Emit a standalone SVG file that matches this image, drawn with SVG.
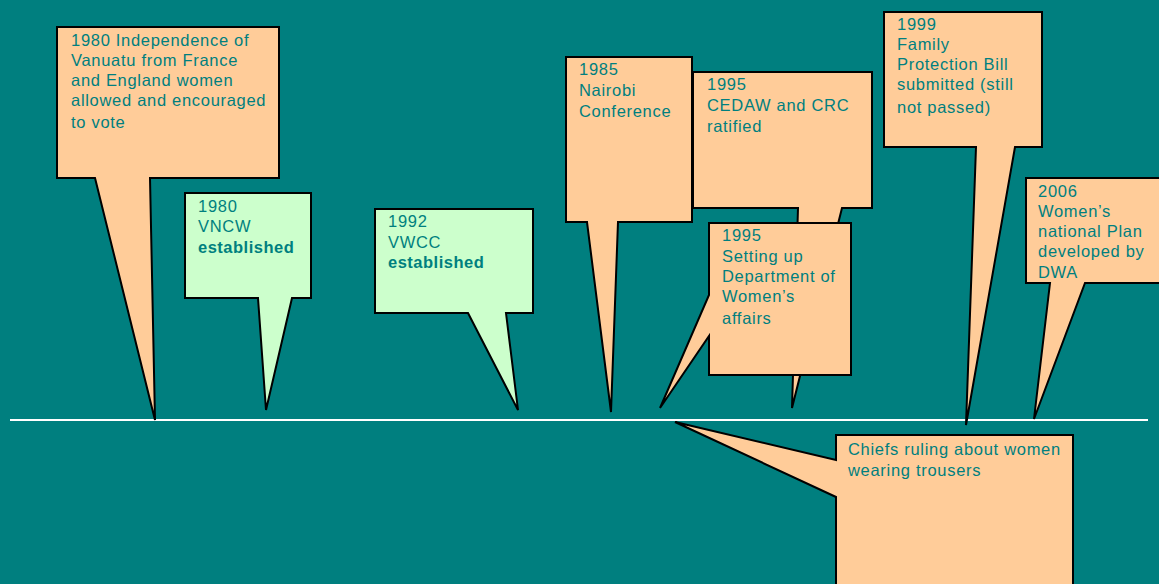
<svg xmlns="http://www.w3.org/2000/svg" width="1159" height="584" viewBox="0 0 1159 584">
  <style>
    .callout { stroke: #000; stroke-width: 2; stroke-linejoin: miter; }
    .peach { fill: #FFCC99; }
    .mint { fill: #CCFFCC; }
    .label { font-family: "Liberation Sans", Arial, sans-serif; font-size: 16.5px; letter-spacing: 0.7px; fill: #007F7F; }
    .strong { font-weight: bold; letter-spacing: 0.5px; }
  </style>
  <rect x="0" y="0" width="1159" height="584" fill="#007F7F"/>

  <!-- timeline axis -->
  <g id="connectors">
    <line x1="10" y1="420" x2="1148" y2="420" stroke="#FFFFFF" stroke-width="2"/>
  </g>

  <g id="event-1980-independence">
    <path class="callout peach" d="M57,27 H279 V178 H150 L155,420 L95,178 H57 Z"/>
    <text class="label" x="71" y="46">1980 Independence of</text>
    <text class="label" x="71" y="66">Vanuatu from France</text>
    <text class="label" x="71" y="86">and England women</text>
    <text class="label" x="71" y="106">allowed and encouraged</text>
    <text class="label" x="71" y="128">to vote</text>
  </g>

  <g id="event-1980-vncw">
    <path class="callout mint" d="M185,193 H311 V298 H292 L266,410 L258,298 H185 Z"/>
    <text class="label" x="198" y="212">1980</text>
    <text class="label" x="198" y="232">VNCW</text>
    <text class="label strong" x="198" y="253">established</text>
  </g>

  <g id="event-1992-vwcc">
    <path class="callout mint" d="M375,209 H533 V313 H506 L518,410 L468,313 H375 Z"/>
    <text class="label" x="388" y="227">1992</text>
    <text class="label" x="388" y="248">VWCC</text>
    <text class="label strong" x="388" y="268">established</text>
  </g>

  <g id="event-1985-nairobi">
    <path class="callout peach" d="M566,57 H692 V222 H618 L611,412 L587,222 H566 Z"/>
    <text class="label" x="579" y="75">1985</text>
    <text class="label" x="579" y="96">Nairobi</text>
    <text class="label" x="579" y="117">Conference</text>
  </g>

  <g id="event-1995-cedaw">
    <path class="callout peach" d="M693,72 H872 V208 H842 L792,408 L798,208 H693 Z"/>
    <text class="label" x="707" y="90">1995</text>
    <text class="label" x="707" y="111">CEDAW and CRC</text>
    <text class="label" x="707" y="132">ratified</text>
  </g>

  <g id="event-1995-department">
    <path class="callout peach" d="M709,223 H851 V375 H709 V336 L660,408 L709,295 Z"/>
    <text class="label" x="722" y="241">1995</text>
    <text class="label" x="722" y="262">Setting up</text>
    <text class="label" x="722" y="282">Department of</text>
    <text class="label" x="722" y="302">Women’s</text>
    <text class="label" x="722" y="324">affairs</text>
  </g>

  <g id="event-1999-family-protection">
    <path class="callout peach" d="M884,12 H1042 V147 H1015 L966,425 L976,147 H884 Z"/>
    <text class="label" x="897" y="30">1999</text>
    <text class="label" x="897" y="50">Family</text>
    <text class="label" x="897" y="70">Protection Bill</text>
    <text class="label" x="897" y="90">submitted (still</text>
    <text class="label" x="897" y="113">not passed)</text>
  </g>

  <g id="event-2006-national-plan">
    <path class="callout peach" d="M1026,178 H1165 V283 H1085 L1034,419 L1050,283 H1026 Z"/>
    <text class="label" x="1038" y="197">2006</text>
    <text class="label" x="1038" y="217">Women’s</text>
    <text class="label" x="1038" y="237">national Plan</text>
    <text class="label" x="1038" y="257">developed by</text>
    <text class="label" x="1038" y="278">DWA</text>
  </g>

  <g id="event-chiefs-ruling">
    <path class="callout peach" d="M836,435 H1073 V592 H836 V497 L675,422 L836,460 Z"/>
    <text class="label" x="848" y="455">Chiefs ruling about women</text>
    <text class="label" x="848" y="476">wearing trousers</text>
  </g>
</svg>
